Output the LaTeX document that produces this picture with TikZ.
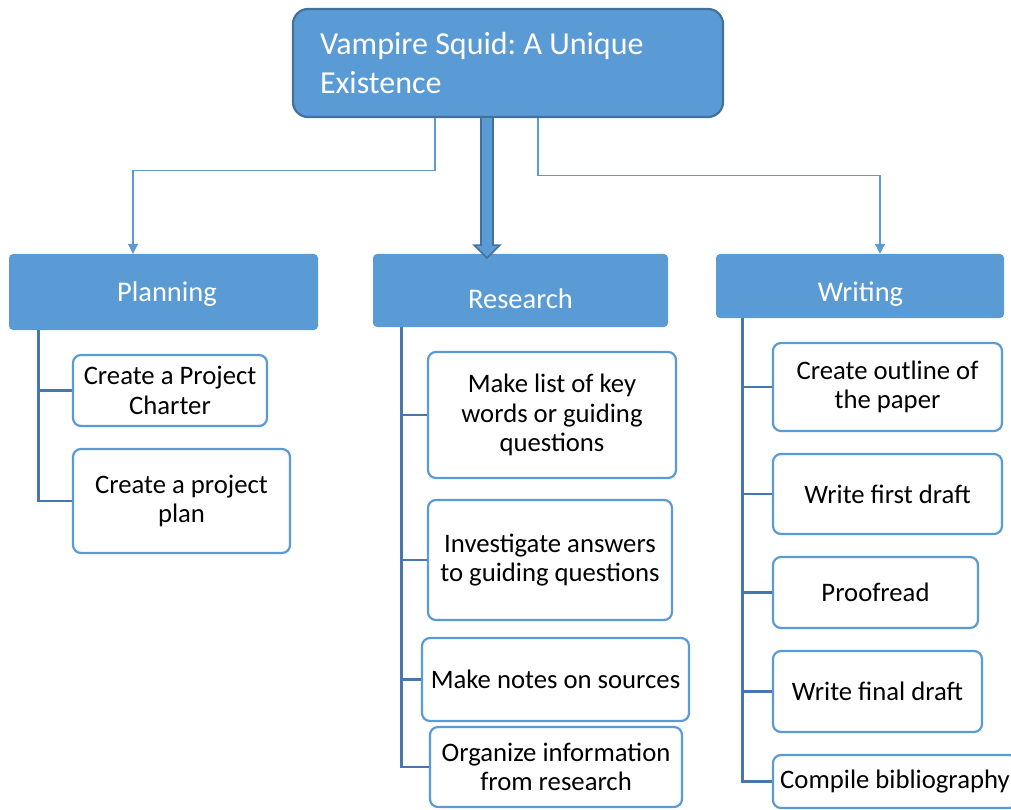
\documentclass[tikz,border=0pt]{standalone}
\usepackage{fontspec}
\setmainfont{Carlito}
\usetikzlibrary{arrows.meta}
\definecolor{wbsfill}{HTML}{5B9BD5}
\definecolor{wbsedge}{HTML}{41719C}
\definecolor{wbsbar}{HTML}{4677AE}
\frenchspacing

\begin{document}
\begin{tikzpicture}[x=1pt,y=-1pt,
  topbox/.style={draw=wbsedge,line width=2.2pt,fill=wbsfill,rounded corners=15pt,text=white,
    font=\fontsize{32}{39}\selectfont,align=flush left,text width=376pt,inner xsep=27pt,inner ysep=0pt,
    minimum height=108pt},
  hdrbox/.style={fill=wbsfill,rounded corners=4pt,inner sep=0pt},
  hdrtext/.style={text=white,font=\fontsize{28.5}{34}\selectfont,anchor=base,inner sep=0pt},
  taskbox/.style={draw=wbsfill,line width=2.2pt,fill=white,rounded corners=8pt,align=center,
    font=\fontsize{26.7}{29.5}\selectfont,inner sep=0pt},
  link/.style={draw=wbsfill,line width=1.1pt,-{Triangle[width=10pt,length=10pt]}},
  bar/.style={draw=wbsbar,line width=2.8pt},
  bigarrow/.style={draw=wbsedge,line width=1.6pt,fill=wbsfill,line join=miter}]

\useasboundingbox (0,0) rectangle (1011,810);
\clip (0,0) rectangle (1011,810);

\node[topbox] (title) at (508,63) {Vampire Squid: A Unique\\Existence};

\node[hdrbox,minimum width=309pt,minimum height=76pt] (planhd) at (163.5,292) {};
\node[hdrtext] (plantx) at (167,301) {Planning};
\node[hdrbox,minimum width=295pt,minimum height=73pt] (reshd) at (520.5,290.5) {};
\node[hdrtext] (restx) at (520.5,308) {Research};
\node[hdrbox,minimum width=288pt,minimum height=64pt] (writhd) at (860,286) {};
\node[hdrtext] (writtx) at (860.5,301) {Writing};

\node[taskbox,minimum width=194pt,minimum height=71pt] (pc1) at (170,390.5) {Create a Project\\Charter};
\node[taskbox,minimum width=217pt,minimum height=104pt] (pc2) at (181.5,501) {Create a project\\plan};

\node[taskbox,minimum width=248pt,minimum height=126pt] (rc1) at (552,415) {Make list of key\\words or guiding\\questions};
\node[taskbox,minimum width=244pt,minimum height=120pt] (rc2) at (550,560) {Investigate answers\\to guiding questions};
\node[taskbox,minimum width=267pt,minimum height=83pt] (rc3) at (555.5,679.5) {Make notes on sources};
\node[taskbox,minimum width=252pt,minimum height=80pt] (rc4) at (556,767) {Organize information\\from research};

\node[taskbox,minimum width=229pt,minimum height=88pt] (wc1) at (887.5,387) {Create outline of\\the paper};
\node[taskbox,minimum width=229pt,minimum height=80pt] (wc2) at (887.5,494) {Write first draft};
\node[taskbox,minimum width=205pt,minimum height=71pt] (wc3) at (875.5,592.5) {Proofread};
\node[taskbox,minimum width=209pt,minimum height=81pt] (wc4) at (877.5,691.5) {Write final draft};
\node[taskbox,minimum width=244pt,minimum height=53pt] (wc5) at (895,781.5) {Compile bibliography};

\draw[link] ([xshift=-73pt]title.south) -- ++(0,52) -| ([xshift=-30.5pt]planhd.north);
\draw[link] ([xshift=30pt]title.south) -- ++(0,57) -| ([xshift=20pt]writhd.north);
\draw[bigarrow] ([xshift=-27pt]title.south) -- ++(0,127) -- ++(-7,0) -- ++(13,13)
  -- ++(13,-13) -- ++(-7,0) -- ([xshift=-15pt]title.south);

\draw[bar] ([xshift=30pt]planhd.south west) |- (pc1.west);
\draw[bar] ([xshift=30pt]planhd.south west) |- (pc2.west);

\draw[bar] ([xshift=29pt]reshd.south west) |- (rc1.west);
\draw[bar] ([xshift=29pt]reshd.south west) |- (rc2.west);
\draw[bar] ([xshift=29pt]reshd.south west) |- (rc3.west);
\draw[bar] ([xshift=29pt]reshd.south west) |- (rc4.west);

\draw[bar] ([xshift=27pt]writhd.south west) |- (wc1.west);
\draw[bar] ([xshift=27pt]writhd.south west) |- (wc2.west);
\draw[bar] ([xshift=27pt]writhd.south west) |- (wc3.west);
\draw[bar] ([xshift=27pt]writhd.south west) |- (wc4.west);
\draw[bar] ([xshift=27pt]writhd.south west) |- (wc5.west);
\end{tikzpicture}
\end{document}
